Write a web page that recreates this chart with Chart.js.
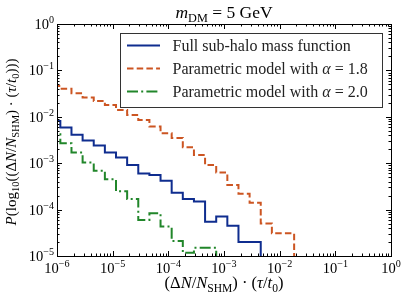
<!DOCTYPE html>
<html><head><meta charset="utf-8">
<script src="https://cdn.jsdelivr.net/npm/chart.js@4/dist/chart.umd.min.js"></script>
<style>html,body{margin:0;padding:0;background:#fff}canvas{display:block}</style>
</head><body>
<canvas id="c" width="407" height="299"></canvas>
<script>
// bin edges (log10 of x)
const binEdgeExponents = [-6.00,-5.94,-5.74,-5.54,-5.34,-5.14,-4.94,-4.74,-4.54,-4.34,-4.14,-3.94,-3.74,-3.54,-3.34,-3.14,-2.94,-2.74,-2.54,-2.34,-2.14,-1.94,-1.74];
// series values per bin
const fullSHMF = [0.0113,0.0081,0.0059,0.0041,0.0031,0.0024,0.0017,0.00132,0.00091,0.00060,0.00056,0.00042,0.00023,0.00017,0.00015,0.000055,0.000071,0.000045,0.000020];
const alpha18 = [0.054,0.046,0.040,0.032,0.026,0.022,0.018,0.014,0.011,0.0085,0.0062,0.0044,0.0035,0.0022,0.0015,0.00091,0.00063,0.00034,0.00022,0.00014,0.000050,0.000031];
const alpha20 = [0.0075,0.0042,0.0027,0.0017,0.00103,0.00069,0.00045,0.00025,0.00017,0.000060,0.000083,0.000043,0.000021,0.0000117,0.000015];
const xTickExponents = [-6,-5,-4,-3,-2,-1,0];
const yTickExponents = [-5,-4,-3,-2,-1,0];
const seriesLabels = ['Full sub-halo mass function','Parametric model with ','Parametric model with '];
const alphaValues = ['1.8','2.0'];

const COL_BLUE = '#0f2d8f', COL_OR = '#cc5522', COL_GR = '#21862a';
const SERIF = '"Liberation Serif", "DejaVu Serif", serif';

const edges = binEdgeExponents.map(e => Math.pow(10, e));
function stepPoints(vals){
  const pts = vals.map((v,i)=>({x:edges[i], y:v}));
  pts.push({x:edges[vals.length], y:vals[vals.length-1]});
  pts.push({x:edges[vals.length], y:1e-9});
  return pts;
}

function drawRich(ctx, segs, x, y, size, align){
  const parts = segs.map(([t,s])=>{
    const small = (s==='sub'||s==='subi'||s==='sup');
    const fs = small ? size*0.7 : size;
    const italic = (s==='i'||s==='subi');
    const font = (italic?'italic ':'') + fs + 'px ' + SERIF;
    ctx.font = font;
    const w = ctx.measureText(t).width;
    const dy = s==='sup' ? -size*0.42 : (small ? size*0.22 : 0);
    return {t, font, w, dy};
  });
  const total = parts.reduce((a,p)=>a+p.w,0);
  let cx = align==='center' ? x-total/2 : (align==='right' ? x-total : x);
  ctx.textAlign = 'left';
  ctx.textBaseline = 'alphabetic';
  for(const p of parts){ ctx.font = p.font; ctx.fillText(p.t, cx, y+p.dy); cx += p.w; }
  return total;
}

const overlay = {
  id:'overlay',
  afterDraw(chart){
    const ctx = chart.ctx, a = chart.chartArea, xs = chart.scales.x, ys = chart.scales.y;
    ctx.save();
    ctx.fillStyle = '#000'; ctx.strokeStyle = '#000'; ctx.lineWidth = 1;
    ctx.strokeRect(Math.round(a.left)+0.5, Math.round(a.top)+0.5, Math.round(a.right-a.left), Math.round(a.bottom-a.top));
    ctx.beginPath();
    for(const e of xTickExponents){
      for(let m=1;m<=9;m++){
        if(e===0 && m>1) break;
        const px = Math.round(xs.getPixelForValue(m*Math.pow(10,e)))+0.5;
        const L = m===1?5:2.5;
        ctx.moveTo(px,a.bottom); ctx.lineTo(px,a.bottom-L);
        ctx.moveTo(px,a.top); ctx.lineTo(px,a.top+L);
      }
    }
    for(const e of yTickExponents){
      for(let m=1;m<=9;m++){
        if(e===0 && m>1) break;
        const py = Math.round(ys.getPixelForValue(m*Math.pow(10,e)))+0.5;
        const L = m===1?5:2.5;
        ctx.moveTo(a.left,py); ctx.lineTo(a.left+L,py);
        ctx.moveTo(a.right,py); ctx.lineTo(a.right-L,py);
      }
    }
    ctx.stroke();
    for(const e of xTickExponents){
      const px = xs.getPixelForValue(Math.pow(10,e));
      drawRich(ctx, [['10','r'],[e===0?'0':'\u2212'+(-e),'sup']], px, a.bottom+17, 14.5, 'center');
    }
    for(const e of yTickExponents){
      const py = ys.getPixelForValue(Math.pow(10,e));
      drawRich(ctx, [['10','r'],[e===0?'0':'\u2212'+(-e),'sup']], a.left-3, py+5, 14.5, 'right');
    }
    drawRich(ctx, [['m','i'],['DM','sub'],[' = 5 GeV','r']], (a.left+a.right)/2, 18, 17.5, 'center');
    drawRich(ctx, [['(\u0394','r'],['N','i'],['/','r'],['N','i'],['SHM','sub'],[') \u00b7 (','r'],['\u03c4','i'],['/','r'],['t','i'],['0','sub'],[')','r']], (a.left+a.right)/2, 288, 16.5, 'center');
    ctx.save();
    ctx.translate(16, (a.top+a.bottom)/2 + 2);
    ctx.rotate(-Math.PI/2);
    drawRich(ctx, [['P','i'],['(log','r'],['10','sub'],['((\u0394','r'],['N','i'],['/','r'],['N','i'],['SHM','sub'],[') \u00b7 (','r'],['\u03c4','i'],['/','r'],['t','i'],['0','sub'],[')))','r']], 0, 0, 15, 'center');
    ctx.restore();
    const lx = 120, ly = 33, lw = 262, lh = 74;
    ctx.fillStyle = '#fff';
    ctx.fillRect(lx, ly, lw, lh);
    ctx.strokeStyle = '#333'; ctx.lineWidth = 1;
    ctx.strokeRect(lx+0.5, ly+0.5, lw, lh);
    const rows = [45.5, 68.5, 91.5];
    const styles = [[COL_BLUE,[]],[COL_OR,[6.5,3.2]],[COL_GR,[11,3.2,2,3.2]]];
    rows.forEach((ry,i)=>{
      ctx.strokeStyle = styles[i][0]; ctx.lineWidth = 2; ctx.setLineDash(styles[i][1]);
      ctx.beginPath(); ctx.moveTo(127, ry); ctx.lineTo(160, ry); ctx.stroke();
      ctx.setLineDash([]);
      ctx.fillStyle = '#222';
      if(i===0) drawRich(ctx, [[seriesLabels[0],'r']], 172.5, ry+5, 16, 'left');
      else drawRich(ctx, [[seriesLabels[i],'r'],['\u03b1','i'],[' = '+alphaValues[i-1],'r']], 172.5, ry+5, 16, 'left');
    });
    ctx.restore();
  }
};

new Chart(document.getElementById('c'), {
  type:'scatter',
  data:{ datasets:[
    {label:seriesLabels[0], data:stepPoints(fullSHMF), showLine:true, stepped:'after', borderColor:COL_BLUE, borderWidth:2, pointRadius:0, fill:false},
    {label:seriesLabels[1]+'\u03b1 = '+alphaValues[0], data:stepPoints(alpha18), showLine:true, stepped:'after', borderColor:COL_OR, borderWidth:2, borderDash:[6.5,3.2], pointRadius:0, fill:false},
    {label:seriesLabels[2]+'\u03b1 = '+alphaValues[1], data:stepPoints(alpha20), showLine:true, stepped:'after', borderColor:COL_GR, borderWidth:2, borderDash:[11,3.2,2,3.2], pointRadius:0, fill:false}
  ]},
  options:{
    responsive:false, animation:false, devicePixelRatio:1,
    layout:{padding:{left:57, right:16, top:24, bottom:43}},
    plugins:{legend:{display:false}, tooltip:{enabled:false}, title:{display:false}},
    scales:{
      x:{type:'logarithmic', min:1e-6, max:1, display:false},
      y:{type:'logarithmic', min:1e-5, max:1, display:false}
    }
  },
  plugins:[overlay]
});
</script>
</body></html>
